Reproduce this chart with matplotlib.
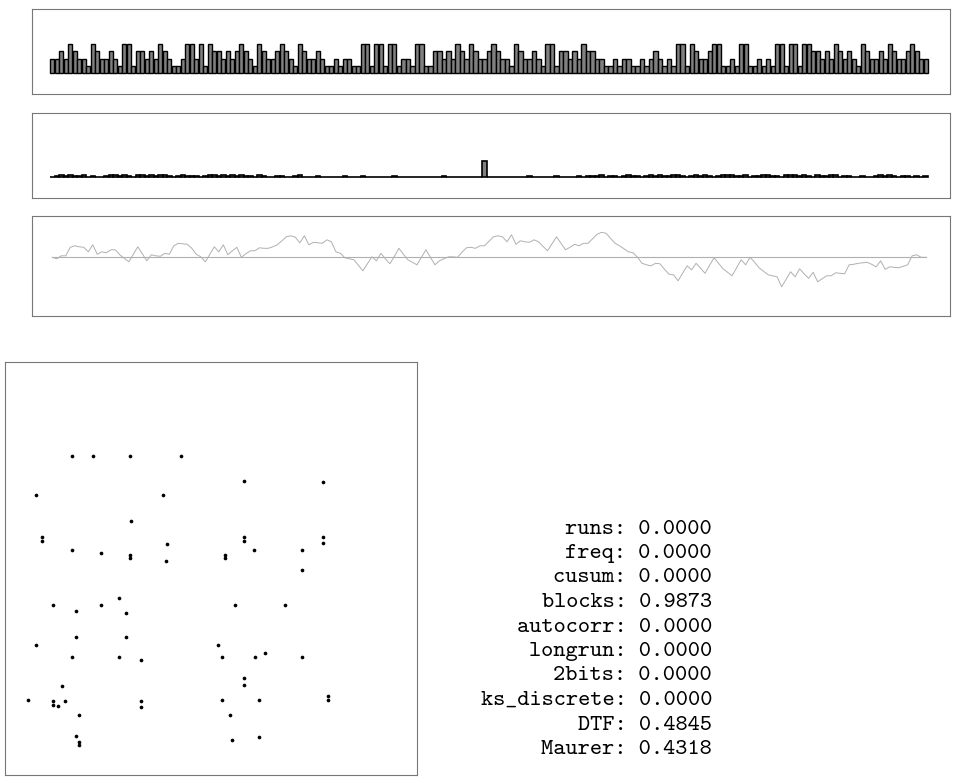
import matplotlib
matplotlib.use('Agg')
import matplotlib.pyplot as plt
import numpy as np

# top panel: sequence values
seq = [2,2,3,2,4,3,2,2,1,4, 3,2,2,3,2,1,4,4,1, 3,3,2,3,2,4,3,2,1,1,2,4,4,2,4,1,4, 3,3,2,3,2,3,4,3,2,1,4,3,2,
       2,3,4,3,2,1,4, 3,2,2,3,2,1,1,2,1,2,2,1,1, 4,4,1,4,4,1,4,4,1,2,2,1,4,4,1,1, 3,3,2,3,2,4,3,2,4,3,2,2,3,
       4,3,2,2,1,4, 3,2,2,3,2,1,4,4,1, 3,3,2,3,2,4,3,3,2,2,1,1,2,1,2,2,1,1,2,1,2,3,2,1,2,1,4,4,1,4, 3,2,2,3,
       4,4,1,1,2,1,4,4,1,1,2,1,2,1,4,4,1,4,4,1,4,4, 3,3,2,3,2,4,3,2,3,2,1,4, 3,2,2,3,2,4,3,2,2,3,4,3,2,2]

# middle panel: spectrum
spec = [0.1,0.15,0.25,0.2,0.25,0.15,0.2,0.25,0.1,0.15,0.1,0.08,0.15,0.25,0.25,
        0.2,0.25,0.15,0.1,0.25,0.25,0.2,0.25,0.15,0.25,0.25,0.2,0.1,0.15,0.25,
        0.2,0.15,0.15,0.1,0.2,0.25,0.25,0.15,0.25,0.2,0.25,0.15,0.25,0.2,0.15,
        0.1,0.25,0.15,0.1,0.08,0.15,0.2,0.1,0.08,0.15,0.25,0.1,0.08,0.1,0.15,
        0.1,0.08,0.08,0.1,0.08,0.15,0.1,0.08,0.08,0.2,0.1,0.08,0.08,0.08,0.1,
        0.08,0.15,0.08,0.08,0.1,0.08,0.08,0.08,0.1,0.08,0.08,0.1,0.2,0.08,0.08,
        0.08,0.1,0.08,0.08,0.08,0.08,2.27,0.1,0.1,0.08,0.08,0.08,0.08,0.1,0.08,
        0.08,0.15,0.08,0.08,0.08,0.1,0.08,0.2,0.08,0.1,0.08,0.08,0.15,0.08,0.15,
        0.2,0.15,0.25,0.1,0.15,0.2,0.1,0.15,0.25,0.2,0.15,0.1,0.2,0.25,0.15,
        0.25,0.2,0.15,0.25,0.25,0.15,0.1,0.2,0.25,0.2,0.25,0.15,0.1,0.2,0.25,
        0.25,0.25,0.2,0.15,0.25,0.1,0.15,0.2,0.25,0.25,0.15,0.2,0.1,0.25,0.25,
        0.25,0.2,0.25,0.15,0.1,0.25,0.2,0.15,0.25,0.25,0.1,0.15,0.2,0.1,0.08,
        0.15,0.1,0.08,0.2,0.25,0.15,0.25,0.15,0.1,0.15,0.2,0.1,0.15,0.1,0.15]

# bottom strip: cumulative sum
cusum = [0,-0.3,0.3,0.3,2.0,2.3,2.1,2.0,1.1,2.5,0.6,1.1,0.9,1.5,1.5,0.5,-0.2,-0.9,0.6,2.1,
         0.7,-0.7,0.5,0.3,0.2,0.8,0.6,2.3,2.8,2.7,2.6,1.8,0.6,0.1,-0.9,0.6,2.1,1.1,2.5,0.5,
         1.3,2.0,0.0,0.7,1.3,1.3,1.9,1.8,1.8,2.1,2.5,3.3,4.1,4.3,4.0,2.9,4.3,2.5,3.0,2.9,
         2.8,3.5,3.1,1.1,0.8,-0.1,-0.3,-0.5,-1.6,-2.7,-1.3,0.1,-0.7,0.8,-0.3,-1.3,0.2,1.8,0.6,-0.5,
         -1.0,-1.5,0.0,1.5,0.0,-1.5,-0.7,-0.3,0.1,0.1,0.0,1.0,1.9,2.0,1.8,2.3,2.3,3.2,4.1,4.3,
         4.1,3.1,4.5,2.6,3.3,3.1,3.0,3.5,3.1,2.2,1.3,2.7,4.1,2.8,1.5,2.0,2.6,2.3,2.8,2.8,
         3.7,4.6,5.0,4.8,3.8,2.8,2.3,1.7,1.1,0.9,0.0,-1.2,-1.5,-1.7,-1.2,-1.3,-2.4,-3.4,-3.5,-4.7,
         -3.2,-1.7,-2.5,-1.2,-2.2,-3.2,-1.6,-0.1,-1.2,-2.3,-3.0,-3.7,-2.1,-0.5,-1.5,0.0,-1.0,-2.1,-2.8,-3.5,
         -3.7,-3.9,-5.9,-4.4,-2.9,-3.9,-2.3,-3.3,-4.2,-3.0,-4.9,-4.3,-3.7,-3.7,-3.1,-3.2,-3.3,-1.5,-1.4,-1.2,
         -1.1,-1.0,-1.4,-1.9,-0.7,-2.4,-1.9,-2.0,-2.1,-1.8,-1.5,0.3,0.5,0.0,0.0]

# scatter of pairs
pair_x = [16.3,21.4,30.3,42.7,58.0,77.2,7.5,38.3,30.6,9.0,9.0,58.0,58.0,77.2,77.2,39.3,16.3,23.3,
          30.3,30.3,53.4,53.4,60.4,72.1,39.1,72.1,27.7,11.7,17.2,23.3,29.4,55.8,68.0,17.2,29.4,7.5,
          51.7,16.3,27.7,33.0,52.7,60.7,63.1,72.1,58.0,58.0,13.8,5.6,11.7,11.7,14.6,12.9,33.0,33.0,
          52.7,61.7,78.4,78.4,18.0,54.6,17.2,18.0,18.0,55.1,61.7]
pair_y = [77.2,77.2,77.2,77.2,71.2,70.9,67.8,67.8,61.5,57.6,56.7,57.6,56.7,57.6,56.2,55.9,54.5,53.8,
          53.3,52.5,53.3,52.5,54.5,54.5,51.8,49.6,42.9,41.2,39.7,41.2,39.2,41.2,41.2,33.4,33.4,31.5,
          31.5,28.6,28.6,27.8,28.6,28.6,29.5,28.6,23.5,21.8,21.5,18.2,17.9,16.9,17.9,16.7,17.9,16.5,
          18.2,18.2,19.1,18.2,14.5,14.5,9.4,8.0,7.3,8.5,9.2]

test_names = ['runs', 'freq', 'cusum', 'blocks', 'autocorr', 'longrun', '2bits',
              'ks_discrete', 'DTF', 'Maurer']
p_values = [0.0, 0.0, 0.0, 0.9873, 0.0, 0.0, 0.0, 0.0, 0.4845, 0.4318]

W, H = 955, 783
fig = plt.figure(figsize=(W / 100, H / 100), dpi=100)

def box(l, t, r, b):
    return [l / W, 1 - b / H, (r - l) / W, (b - t) / H]

def clean(ax):
    ax.set_xticks([])
    ax.set_yticks([])
    for s in ax.spines.values():
        s.set_color('#777777')
        s.set_linewidth(0.8)

n = len(seq)
idx = np.arange(n)
xlim = (-4.5, n - 0.5 + 4.9)

ax1 = fig.add_axes(box(32, 9, 950, 94))
ax1.bar(idx, seq, width=0.92, color='#808080', edgecolor='black', linewidth=1.0)
ax1.set_xlim(*xlim)
ax1.set_ylim(-2.82, 8.77)
clean(ax1)

ax2 = fig.add_axes(box(32, 113, 950, 198))
ax2.bar(idx, spec, width=1.0, color='#808080', edgecolor='black', linewidth=1.2)
ax2.set_xlim(*xlim)
ax2.set_ylim(-2.82, 8.77)
clean(ax2)

ax3 = fig.add_axes(box(32, 216, 950, 316))
ax3.plot(idx, np.zeros(n), color='#b0b0b0', linewidth=0.8)
ax3.plot(idx, cusum, color='#b0b0b0', linewidth=0.7)
ax3.set_xlim(*xlim)
ax3.set_ylim(-11.74, 8.26)
clean(ax3)

ax4 = fig.add_axes(box(5, 362, 417, 775))
ax4.scatter(pair_x, pair_y, s=7, color='black', linewidths=0)
ax4.set_xlim(0, 100)
ax4.set_ylim(0, 100)
clean(ax4)

y0 = 529
for k, (name, p) in enumerate(zip(test_names, p_values)):
    fig.text(712 / W, 1 - (y0 + 24.5 * k) / H, f'{name}: {p:.4f}',
             ha='right', va='center', family='cmtt10', fontsize=16.7)

fig.savefig('out.png', dpi=100)
